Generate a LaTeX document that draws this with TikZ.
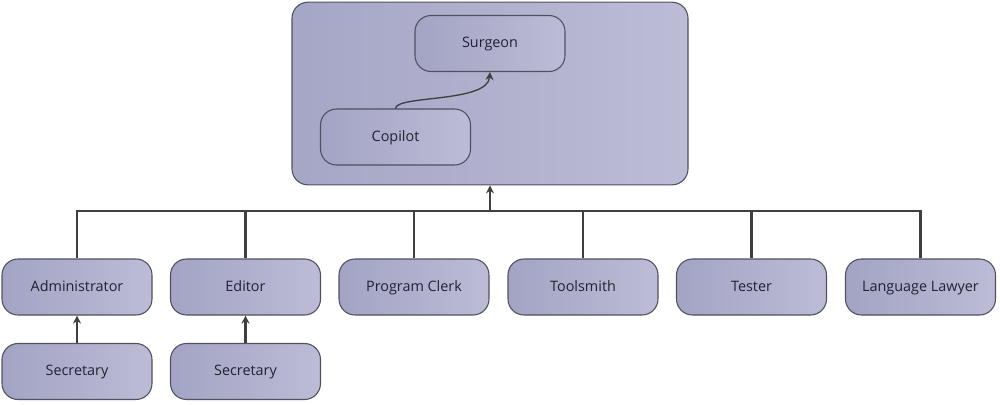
\documentclass[tikz,border=0pt]{standalone}
\usepackage{fontspec}
\setmainfont{Open Sans}
\usetikzlibrary{arrows.meta}

\definecolor{boxlo}{RGB}{163,163,196}
\definecolor{boxhi}{RGB}{188,188,214}
\definecolor{edge}{RGB}{80,80,96}
\definecolor{wire}{RGB}{64,64,64}
\definecolor{ink}{RGB}{34,34,50}

\tikzset{
  role/.style={draw=edge, line width=0.8pt, rounded corners=12pt, left color=boxlo, right color=boxhi,
    minimum width=112.5pt, minimum height=42pt, inner sep=0pt, text=ink, font=\fontsize{10.8}{12}\selectfont,
    text height=1.6ex, text depth=0.45ex},
  team/.style={draw=edge, line width=0.8pt, rounded corners=12pt, left color=boxlo!90!boxhi, right color=boxhi,
    minimum width=297pt, minimum height=137pt, inner sep=0pt},
  wire/.style={draw=wire, line width=1.9pt},
  tip/.style={-{Stealth[length=6pt,width=6pt]}, wire}
}

\begin{document}
\begin{tikzpicture}[x=0.75pt,y=0.75pt,yscale=-1,xscale=1]
	\useasboundingbox (0,0) rectangle (1000,404);
	% chief programmer team
	\node[team] (team) at (490,93.5) {};
	\node[role] (surg) at (490,43.5) {Surgeon};
	\node[role] (copl) at (395.5,137) {Copilot};
	\draw[tip, line width=1pt] (copl.north) .. controls (396,95) and (488,103) .. (surg.south);
	% staff
	\node[role] (adm) at (77,287) {Administrator};
	\node[role] (edt) at (245.5,287) {Editor};
	\node[role] (clk) at (414,287) {Program Clerk};
	\node[role] (tsm) at (583,287) {Toolsmith};
	\node[role] (tst) at (751.5,287) {Tester};
	\node[role] (law) at (920.5,287) {Language Lawyer};
	\node[role] (sec1) at (77,371.5) {Secretary};
	\node[role] (sec2) at (245.5,371.5) {Secretary};
	% bus
	\coordinate (hub) at (490,211);
	\draw[tip] (hub) -- (team.south);
	\draw[wire] (adm.north) |- (hub) -| (law.north);
	\foreach \r in {edt,clk,tsm,tst}
		\draw[wire] (\r.north) -- (\r.north |- hub);
	\draw[tip] (sec1.north) -- (adm.south);
	\draw[tip] (sec2.north) -- (edt.south);
\end{tikzpicture}
\end{document}
